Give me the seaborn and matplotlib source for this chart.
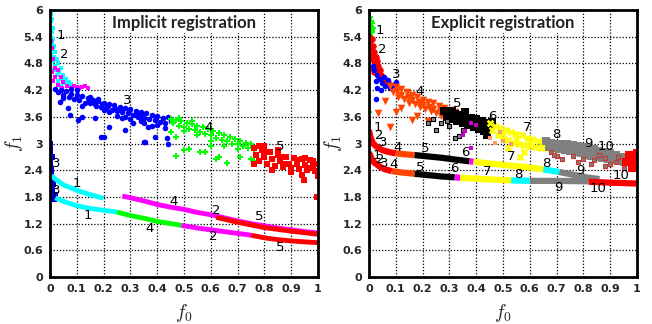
import numpy as np
import pandas as pd
import matplotlib
matplotlib.use("Agg")
import matplotlib.pyplot as plt
import seaborn as sns

# ---------------- Implicit registration (left) ----------------
imp_cyan_top = [(0.002, 5.9), (0.004, 5.75), (0.003, 5.6), (0.008, 5.5), (0.004, 5.4), (0.012, 5.35),
                (0.006, 5.25), (0.015, 5.2), (0.01, 5.1), (0.02, 5.05), (0.005, 5.0), (0.015, 4.95),
                (0.025, 4.9), (0.01, 4.85), (0.03, 4.8), (0.02, 4.75), (0.04, 4.7), (0.015, 4.65),
                (0.035, 4.6), (0.05, 4.55), (0.025, 4.55), (0.045, 4.45), (0.06, 4.45), (0.03, 4.4),
                (0.07, 4.38), (0.055, 4.35), (0.08, 4.33), (0.04, 4.3), (0.006, 5.8), (0.01, 5.6)]
imp_magenta_top = [(0.0, 5.6), (0.003, 5.3), (0.008, 5.15), (0.0, 4.9), (0.012, 4.9), (0.018, 4.7),
                   (0.008, 4.6), (0.03, 4.65), (0.02, 4.5), (0.04, 4.5), (0.012, 4.4), (0.05, 4.38),
                   (0.03, 4.32), (0.065, 4.3), (0.09, 4.3), (0.1, 4.28), (0.12, 4.28), (0.14, 4.25),
                   (0.045, 4.25), (0.0, 3.15), (0.13, 4.3), (0.11, 4.25), (0.08, 4.25)]
imp_blue_top = [(0.02, 4.22), (0.03, 4.15), (0.04, 4.2), (0.05, 4.1), (0.06, 4.18), (0.07, 4.05),
                (0.08, 4.12), (0.09, 4.0), (0.1, 4.1), (0.11, 3.98), (0.12, 4.06), (0.13, 3.92),
                (0.14, 4.02), (0.15, 3.9), (0.16, 3.98), (0.17, 3.85), (0.18, 3.95), (0.19, 3.82),
                (0.2, 3.92), (0.21, 3.8), (0.22, 3.88), (0.23, 3.75), (0.24, 3.86), (0.25, 3.72),
                (0.26, 3.82), (0.27, 3.7), (0.28, 3.8), (0.29, 3.68), (0.3, 3.77), (0.31, 3.64),
                (0.32, 3.74), (0.33, 3.6), (0.34, 3.7), (0.35, 3.58), (0.36, 3.68), (0.37, 3.55),
                (0.38, 3.64), (0.39, 3.52), (0.4, 3.62), (0.41, 3.48), (0.42, 3.58), (0.43, 3.45),
                (0.44, 3.6), (0.45, 3.5), (0.1, 4.2), (0.15, 4.05), (0.05, 4.02), (0.12, 3.85),
                (0.2, 3.75), (0.25, 3.62), (0.3, 3.55), (0.35, 3.45), (0.38, 3.4), (0.43, 3.35),
                (0.08, 4.22), (0.18, 4.0), (0.22, 3.7), (0.28, 3.6), (0.34, 3.5),
                (0.145, 3.95), (0.195, 3.88), (0.245, 3.78), (0.295, 3.72), (0.345, 3.62),
                (0.395, 3.57), (0.325, 3.68), (0.265, 3.76), (0.215, 3.84), (0.165, 3.9),
                (0.037, 3.93), (0.066, 3.8), (0.104, 3.53), (0.168, 3.57), (0.2, 3.15), (0.28, 3.3),
                (0.355, 3.03), (0.39, 3.15), (0.436, 3.12), (0.075, 3.64), (0.12, 3.6), (0.19, 3.15),
                (0.22, 3.37), (0.35, 3.03), (0.44, 2.99), (0.27, 3.57), (0.31, 3.46), (0.366, 3.37),
                (0.4, 3.42)]
imp_green_top = [(0.45, 3.55), (0.46, 3.45), (0.47, 3.52), (0.48, 3.4), (0.49, 3.5), (0.5, 3.38),
                 (0.51, 3.47), (0.52, 3.32), (0.53, 3.44), (0.54, 3.3), (0.55, 3.4), (0.56, 3.25),
                 (0.57, 3.36), (0.58, 3.22), (0.59, 3.32), (0.6, 3.18), (0.61, 3.28), (0.62, 3.12),
                 (0.63, 3.24), (0.64, 3.08), (0.65, 3.18), (0.66, 3.05), (0.67, 3.14), (0.68, 3.0),
                 (0.69, 3.1), (0.7, 2.98), (0.71, 3.06), (0.72, 2.94), (0.73, 3.02), (0.74, 2.9),
                 (0.75, 2.98), (0.76, 2.88), (0.5, 3.28), (0.55, 3.2), (0.6, 3.05), (0.65, 2.95),
                 (0.7, 2.88), (0.48, 3.58), (0.53, 3.5),
                 (0.47, 2.72), (0.5, 2.85), (0.52, 2.88), (0.56, 2.8), (0.58, 2.82), (0.62, 2.65),
                 (0.63, 2.7), (0.66, 2.56), (0.71, 2.7), (0.75, 2.66), (0.76, 2.6), (0.6, 2.95),
                 (0.45, 3.25), (0.47, 3.15)]
imp_red_top = [(0.76, 2.9), (0.77, 2.75), (0.78, 2.6), (0.79, 2.85), (0.8, 2.7), (0.81, 2.55),
               (0.82, 2.8), (0.83, 2.65), (0.84, 2.5), (0.85, 2.75), (0.86, 2.6), (0.87, 2.48),
               (0.88, 2.7), (0.89, 2.55), (0.9, 2.45), (0.91, 2.68), (0.92, 2.55), (0.93, 2.42),
               (0.94, 2.65), (0.95, 2.52), (0.96, 2.4), (0.97, 2.62), (0.98, 2.5), (0.99, 2.38),
               (1.0, 2.55), (0.8, 2.95), (0.76, 2.55), (0.85, 2.85), (0.9, 2.35), (0.95, 2.68),
               (0.83, 2.4), (0.78, 2.95), (0.948, 2.18), (0.94, 2.3), (0.996, 1.8), (1.0, 2.28),
               (0.97, 2.45), (0.8, 2.8), (0.86, 2.7), (0.92, 2.62), (0.98, 2.6), (0.88, 2.55)]
imp_blue_axis = [(0.0, 3.0), (0.0, 2.8), (0.0, 2.6), (0.002, 2.4), (0.002, 2.2), (0.003, 2.0),
                 (0.005, 1.85), (0.01, 1.78), (0.015, 1.75), (0.02, 1.85), (0.008, 1.95),
                 (0.012, 2.1), (0.0, 2.9), (0.001, 2.5), (0.02, 1.78), (0.004, 2.3), (0.006, 2.7)]

# lower fronts, drawn as thick bands: (colour, vertices)
imp_bands = [
    ("#00ffff", [(0.005, 2.28), (0.02, 2.2), (0.05, 2.07), (0.1, 1.95), (0.15, 1.85), (0.2, 1.77)]),
    ("#00ffff", [(0.02, 1.78), (0.05, 1.7), (0.1, 1.6), (0.15, 1.54), (0.2, 1.5), (0.25, 1.46)]),
    ("#00ff00", [(0.25, 1.46), (0.3, 1.38), (0.35, 1.32), (0.4, 1.25), (0.45, 1.2), (0.49, 1.16)]),
    ("#ff00ff", [(0.49, 1.16), (0.55, 1.1), (0.6, 1.06), (0.65, 1.02), (0.7, 0.98), (0.75, 0.94)]),
    ("#ff0000", [(0.75, 0.94), (0.8, 0.88), (0.85, 0.84), (0.9, 0.81), (0.95, 0.79), (1.0, 0.77)]),
    ("#ff00ff", [(0.27, 1.82), (0.3, 1.78), (0.35, 1.71), (0.4, 1.63), (0.45, 1.57), (0.5, 1.52),
                 (0.55, 1.45), (0.6, 1.4), (0.65, 1.33), (0.7, 1.26), (0.75, 1.2), (0.8, 1.15),
                 (0.85, 1.1), (0.9, 1.06), (0.95, 1.02), (1.0, 0.99)]),
    ("#ff0000", [(0.62, 1.34), (0.7, 1.23), (0.8, 1.11), (0.9, 1.03), (1.0, 0.96)]),
]
imp_labels = [("1", 0.04, 5.42), ("2", 0.053, 5.0), ("3", 0.29, 3.96), ("4", 0.59, 3.35),
              ("5", 0.86, 2.94), ("3", 0.022, 2.54), ("3", 0.022, 1.95), ("1", 0.1, 2.1),
              ("1", 0.14, 1.39), ("4", 0.46, 1.69), ("4", 0.373, 1.08), ("2", 0.62, 1.5),
              ("2", 0.61, 0.9), ("5", 0.78, 1.35), ("5", 0.86, 0.67)]

# ---------------- Explicit registration (right) ----------------
exp_green_top = [(0.005, 5.85), (0.008, 5.75), (0.006, 5.65), (0.01, 5.55), (0.012, 5.5),
                 (0.005, 5.45), (0.015, 5.6), (0.01, 5.7), (0.0, 3.7), (0.012, 5.37)]
exp_red_top = [(0.0, 5.4), (0.005, 5.3), (0.01, 5.35), (0.015, 5.2), (0.008, 5.1), (0.02, 5.05),
               (0.012, 5.0), (0.025, 4.95), (0.018, 4.85), (0.03, 4.85), (0.022, 4.75), (0.035, 4.75),
               (0.03, 4.65), (0.04, 4.65), (0.045, 4.55), (0.038, 4.5), (0.05, 4.5), (0.055, 4.45),
               (0.06, 4.4), (0.065, 4.38), (0.07, 4.35), (0.075, 4.33), (0.08, 4.3), (0.05, 4.42),
               (0.0, 5.0), (0.005, 4.9), (0.01, 4.7), (0.02, 4.6)]
exp_blue_top = [(0.02, 4.65), (0.03, 4.55), (0.025, 4.4), (0.04, 4.45), (0.05, 4.35), (0.06, 4.3),
                (0.07, 4.42), (0.08, 4.25), (0.09, 4.32), (0.1, 4.38), (0.045, 4.2), (0.03, 4.25),
                (0.026, 4.0), (0.015, 4.75), (0.055, 4.5)]
exp_orange_top = [(0.08, 4.3), (0.09, 4.15), (0.1, 4.28), (0.11, 4.05), (0.12, 4.22), (0.13, 4.0),
                  (0.14, 4.15), (0.15, 3.92), (0.16, 4.1), (0.17, 3.88), (0.18, 4.04), (0.19, 3.82),
                  (0.2, 3.98), (0.21, 3.78), (0.22, 3.94), (0.23, 3.72), (0.24, 3.9), (0.25, 3.68),
                  (0.26, 3.85), (0.27, 3.62), (0.28, 3.8), (0.29, 3.58), (0.3, 3.76), (0.31, 3.55),
                  (0.32, 3.7), (0.12, 4.1), (0.16, 3.98), (0.2, 3.86), (0.24, 3.78), (0.28, 3.7),
                  (0.105, 4.17), (0.145, 4.05), (0.185, 3.93), (0.225, 3.83), (0.265, 3.74),
                  (0.305, 3.65), (0.33, 3.62),
                  (0.033, 3.68), (0.16, 3.53), (0.08, 3.37), (0.12, 3.8), (0.1, 3.7), (0.18, 3.62),
                  (0.06, 3.95), (0.22, 3.5)]
exp_black_top = [(0.28, 3.72), (0.29, 3.6), (0.3, 3.68), (0.31, 3.55), (0.32, 3.66), (0.33, 3.5),
                 (0.34, 3.65), (0.35, 3.45), (0.36, 3.6), (0.37, 3.42), (0.38, 3.58), (0.39, 3.38),
                 (0.4, 3.55), (0.41, 3.32), (0.42, 3.5), (0.43, 3.28), (0.44, 3.45), (0.45, 3.35),
                 (0.46, 3.48), (0.34, 3.55), (0.38, 3.48), (0.42, 3.4), (0.44, 3.2), (0.36, 3.7),
                 (0.325, 3.58), (0.355, 3.53), (0.395, 3.46), (0.415, 3.43), (0.31, 3.72)]
exp_black_open = [(0.25, 3.3), (0.22, 3.46), (0.32, 3.12), (0.335, 3.16), (0.29, 3.5), (0.3, 3.4),
                  (0.35, 3.3), (0.24, 3.55), (0.27, 3.45)]
exp_magenta_top = [(0.36, 3.28), (0.35, 3.2), (0.38, 3.45), (0.38, 2.9), (0.4, 3.42)]
exp_yellow_top = [(0.45, 3.45), (0.46, 3.3), (0.47, 3.4), (0.48, 3.2), (0.49, 3.35), (0.5, 3.12),
                  (0.51, 3.3), (0.52, 3.08), (0.53, 3.25), (0.54, 3.02), (0.55, 3.22), (0.56, 3.0),
                  (0.57, 3.18), (0.58, 2.96), (0.59, 3.12), (0.6, 2.95), (0.61, 3.1), (0.62, 2.92),
                  (0.63, 3.06), (0.64, 2.9), (0.65, 3.02), (0.66, 2.9), (0.67, 3.0), (0.5, 3.22),
                  (0.55, 3.1), (0.6, 3.04), (0.563, 2.7), (0.52, 2.9), (0.58, 2.82)]
exp_orange_pts = [(0.47, 3.01), (0.5, 3.05), (0.45, 3.12), (0.53, 2.98), (0.49, 3.25)]
exp_gray_top = [(0.66, 3.05), (0.67, 2.92), (0.68, 3.02), (0.69, 2.9), (0.7, 3.0), (0.71, 2.88),
                (0.72, 3.0), (0.73, 2.86), (0.74, 2.98), (0.75, 2.84), (0.76, 2.96), (0.77, 2.8),
                (0.78, 2.95), (0.79, 2.78), (0.8, 2.92), (0.81, 2.75), (0.82, 2.9), (0.83, 2.72),
                (0.84, 2.88), (0.85, 2.7), (0.86, 2.84), (0.87, 2.68), (0.88, 2.8), (0.89, 2.65),
                (0.9, 2.78), (0.91, 2.62), (0.92, 2.74), (0.93, 2.6), (0.94, 2.7), (0.95, 2.58),
                (0.96, 2.68), (0.7, 2.95), (0.75, 2.9), (0.8, 2.85), (0.85, 2.78), (0.9, 2.7)]
exp_gray_open = [(0.68, 2.8), (0.7, 2.72), (0.72, 2.65), (0.76, 2.72), (0.78, 2.58), (0.8, 2.65),
                 (0.83, 2.55), (0.86, 2.75), (0.88, 2.68), (0.92, 2.58), (0.95, 2.45), (0.93, 2.7),
                 (0.97, 2.78), (0.9, 2.55), (0.69, 2.74), (0.88, 2.5), (0.84, 2.62)]
exp_red_right = [(0.97, 2.75), (0.98, 2.6), (0.99, 2.7), (1.0, 2.65), (0.99, 2.5), (0.98, 2.45),
                 (0.96, 2.58), (1.0, 2.78), (1.0, 2.55)]

exp_bands = [
    ("#ff0000", [(0.0, 3.3), (0.005, 3.15), (0.015, 3.0), (0.03, 2.92), (0.05, 2.85), (0.08, 2.8), (0.1, 2.78)]),
    ("#ff4500", [(0.1, 2.78), (0.13, 2.76), (0.17, 2.74)]),
    ("#000000", [(0.17, 2.74), (0.22, 2.71), (0.27, 2.68), (0.32, 2.64), (0.375, 2.6)]),
    ("#ff00ff", [(0.375, 2.6), (0.39, 2.59)]),
    ("#ffff00", [(0.39, 2.59), (0.45, 2.55), (0.5, 2.52), (0.55, 2.49), (0.6, 2.46), (0.65, 2.42)]),
    ("#00ffff", [(0.65, 2.42), (0.68, 2.39), (0.71, 2.36)]),
    ("#808080", [(0.71, 2.36), (0.76, 2.3), (0.81, 2.24), (0.86, 2.2)]),
    ("#ff0000", [(0.0, 2.8), (0.01, 2.65), (0.02, 2.57), (0.04, 2.48), (0.06, 2.42), (0.085, 2.38)]),
    ("#ff4500", [(0.085, 2.38), (0.12, 2.35), (0.17, 2.32)]),
    ("#000000", [(0.17, 2.32), (0.22, 2.29), (0.27, 2.26), (0.32, 2.24)]),
    ("#ff00ff", [(0.32, 2.24), (0.34, 2.23)]),
    ("#ffff00", [(0.34, 2.23), (0.4, 2.21), (0.46, 2.19), (0.53, 2.17)]),
    ("#00ffff", [(0.53, 2.17), (0.57, 2.165), (0.6, 2.16)]),
    ("#808080", [(0.6, 2.16), (0.7, 2.16), (0.82, 2.15)]),
    ("#ff0000", [(0.82, 2.14), (0.9, 2.12), (1.0, 2.1)]),
]
exp_labels = [("1", 0.04, 5.53), ("2", 0.05, 5.12), ("3", 0.1, 4.56), ("4", 0.19, 4.16),
              ("5", 0.33, 3.91), ("6", 0.46, 3.6), ("7", 0.59, 3.35), ("8", 0.7, 3.21),
              ("9", 0.82, 3.01), ("10", 0.885, 2.94),
              ("1", 0.034, 3.37), ("2", 0.04, 3.19), ("3", 0.052, 3.03), ("4", 0.105, 2.92),
              ("5", 0.21, 2.88), ("6", 0.36, 2.79), ("7", 0.53, 2.7), ("8", 0.66, 2.56),
              ("9", 0.79, 2.4), ("10", 0.94, 2.29),
              ("1", 0.03, 2.72), ("2", 0.042, 2.65), ("3", 0.058, 2.56), ("4", 0.09, 2.52),
              ("5", 0.19, 2.47), ("6", 0.32, 2.43), ("7", 0.44, 2.38), ("8", 0.556, 2.31),
              ("9", 0.705, 2.02), ("10", 0.855, 1.98)]

x_ticks = [0, 0.1, 0.2, 0.3, 0.4, 0.5, 0.6, 0.7, 0.8, 0.9, 1]
x_ticklabels = ["0", "0.1", "0.2", "0.3", "0.4", "0.5", "0.6", "0.7", "0.8", "0.9", "1"]
y_ticks = [0, 0.6, 1.2, 1.8, 2.4, 3, 3.6, 4.2, 4.8, 5.4, 6]
y_ticklabels = ["0", "0.6", "1.2", "1.8", "2.4", "3", "3.6", "4.2", "4.8", "5.4", "6"]

sns.set_style("white")
plt.rcParams["mathtext.fontset"] = "cm"


def pts(ax, data, color, marker, s, **kw):
    df = pd.DataFrame(data, columns=["x", "y"])
    kw.setdefault("linewidth", 0)
    sns.scatterplot(data=df, x="x", y="y", ax=ax, color=color, marker=marker, s=s,
                    legend=False, zorder=3, **kw)


def band(ax, data, color, lw):
    df = pd.DataFrame(data, columns=["x", "y"])
    sns.lineplot(data=df, x="x", y="y", ax=ax, color=color, linewidth=lw, sort=False,
                 estimator=None, solid_capstyle="butt", zorder=3)


def style(ax, title):
    ax.set_xlim(0, 1)
    ax.set_ylim(0, 6)
    ax.set_xticks(x_ticks)
    ax.set_xticklabels(x_ticklabels)
    ax.set_yticks(y_ticks)
    ax.set_yticklabels(y_ticklabels)
    ax.grid(True, color="black", linestyle=(0, (1, 1.5)), linewidth=0.9)
    ax.set_axisbelow(True)
    for sp in ax.spines.values():
        sp.set_linewidth(2.0)
        sp.set_color("black")
        sp.set_zorder(5)
    ax.tick_params(direction="in", length=4, width=1.2, labelsize=8, pad=5)
    for lab in ax.get_xticklabels() + ax.get_yticklabels():
        lab.set_fontweight("bold")
    ax.set_xlabel(r"$f_0$", fontsize=14, labelpad=6)
    ax.set_ylabel(r"$f_1$", fontsize=14)
    ax.yaxis.set_label_coords(-0.095, 0.5)
    ax.text(0.5, 5.7, title, ha="center", va="center", fontsize=12, fontweight="bold",
            color="#222222", family="Lato", zorder=6,
            bbox=dict(facecolor="white", edgecolor="none", pad=1.5))


def labels(ax, items):
    for t, x, y in items:
        ax.text(x, y, t, ha="center", va="center", fontsize=9.5, color="black", zorder=6)


fig = plt.figure(figsize=(6.52, 3.24), dpi=100)
ax1 = fig.add_axes([50 / 652, 1 - 277 / 324, 268 / 652, 267 / 324])
ax2 = fig.add_axes([369 / 652, 1 - 277 / 324, 268 / 652, 267 / 324])

# left panel
pts(ax1, imp_cyan_top, "#00ffff", "s", 12)
pts(ax1, imp_magenta_top, "#ff00ff", "s", 12)
pts(ax1, imp_blue_top, "#0000ff", "o", 16)
pts(ax1, imp_green_top, "#00ff00", "P", 18)
pts(ax1, imp_red_top, "#ff0000", "s", 22)
pts(ax1, imp_blue_axis, "#0000cc", "s", 14)
for c, d in imp_bands:
    band(ax1, d, c, 3.5)
labels(ax1, imp_labels)
style(ax1, "Implicit registration")

# right panel
pts(ax2, exp_green_top, "#00ff00", "P", 16)
pts(ax2, exp_red_top, "#ff0000", "o", 22)
pts(ax2, exp_blue_top, "#0000ff", "o", 16)
pts(ax2, exp_orange_top, "#ff4500", "v", 30)
pts(ax2, exp_black_top, "#000000", "s", 34)
pts(ax2, exp_black_open, "#888888", "s", 12, linewidth=0.8, edgecolor="black")
pts(ax2, exp_magenta_top, "#cc00cc", "s", 12)
pts(ax2, exp_yellow_top, "#ffff00", "X", 30)
pts(ax2, exp_orange_pts, "#ff9966", "s", 10)
pts(ax2, exp_gray_top, "#808080", "s", 32)
pts(ax2, exp_gray_open, "#808080", "s", 12, linewidth=0.8, edgecolor="#cc3333")
pts(ax2, exp_red_right, "#ff0000", "s", 26)
for c, d in exp_bands:
    band(ax2, d, c, 4.5)
labels(ax2, exp_labels)
style(ax2, "Explicit registration")

fig.savefig("out.png", dpi=100)
